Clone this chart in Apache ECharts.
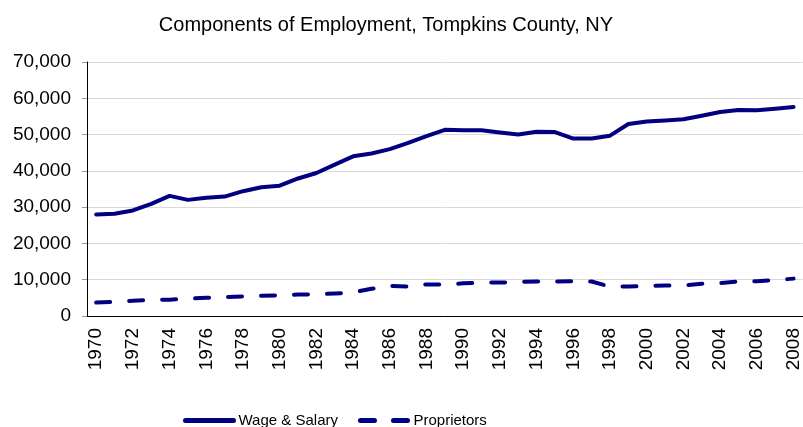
<!DOCTYPE html>
<html>
<head>
<meta charset="utf-8">
<script src="https://cdn.jsdelivr.net/npm/echarts@6/dist/echarts.min.js"></script>
<style>
  html, body { margin: 0; padding: 0; background: #fff; }
  #chart { width: 803px; height: 427px; }
</style>
</head>
<body>
<div id="chart"></div>
<script>
const years = [];
for (let y = 1970; y <= 2008; y++) years.push(String(y));

const wageSalary = [
  28000, 28200, 29100, 30900, 33100, 32000, 32600, 32900, 34400, 35500,
  35900, 37900, 39400, 41700, 44000, 44800, 46000, 47700, 49600, 51300,
  51200, 51200, 50600, 50000, 50800, 50700, 48900, 48900, 49700, 52900,
  53600, 53900, 54200, 55200, 56200, 56800, 56700, 57100, 57600
];

const proprietors = [
  3700, 3900, 4200, 4400, 4500, 4800, 5000, 5200, 5400, 5600,
  5700, 5900, 6000, 6200, 6500, 7500, 8300, 8100, 8700, 8700,
  9000, 9200, 9200, 9400, 9500, 9500, 9600, 9500, 8100, 8100,
  8300, 8400, 8400, 8900, 9100, 9500, 9600, 9900, 10300
];

const font = 'Liberation Sans, Arial, sans-serif';
const navy = '#000080';

const chart = echarts.init(document.getElementById('chart'));

chart.setOption({
  animation: false,
  title: {
    text: 'Components of Employment, Tompkins County, NY',
    left: 381,
    textAlign: 'center',
    top: 10,
    textStyle: { fontFamily: font, fontSize: 20, fontWeight: 'normal', color: '#000' }
  },
  legend: {
    left: 178,
    top: 408,
    itemWidth: 48,
    itemHeight: 14,
    itemGap: 20,
    itemStyle: { color: 'transparent', borderWidth: 0, opacity: 0 },
    lineStyle: { width: 5 },
    textStyle: { fontFamily: font, fontSize: 15, color: '#000' },
    data: ['Wage & Salary', 'Proprietors']
  },
  grid: { left: 87, right: -3, top: 62, bottom: 111 },
  xAxis: {
    type: 'category',
    data: years,
    boundaryGap: true,
    axisLine: { lineStyle: { color: '#000', width: 1 } },
    axisTick: { interval: 0, length: 5, lineStyle: { color: '#999' } },
    axisLabel: {
      interval: 1,
      rotate: 90,
      margin: 12,
      fontFamily: font,
      fontSize: 19,
      color: '#000'
    }
  },
  yAxis: {
    type: 'value',
    min: 0,
    max: 70000,
    interval: 10000,
    axisLine: { show: true, lineStyle: { color: '#000', width: 1 } },
    axisTick: { show: true, length: 5, lineStyle: { color: '#999' } },
    splitLine: { lineStyle: { color: '#d9d9d9', width: 1 } },
    axisLabel: {
      margin: 16,
      fontFamily: font,
      fontSize: 19,
      color: '#000',
      formatter: v => v.toLocaleString('en-US')
    }
  },
  series: [
    {
      name: 'Wage & Salary',
      type: 'line',
      data: wageSalary,
      symbol: 'none',
      color: navy,
      lineStyle: { color: navy, width: 4, cap: 'round', join: 'round' }
    },
    {
      name: 'Proprietors',
      type: 'line',
      data: proprietors,
      symbol: 'none',
      color: navy,
      lineStyle: { color: navy, width: 4, type: [14, 19], cap: 'round', join: 'round' }
    }
  ]
});
</script>
</body>
</html>
